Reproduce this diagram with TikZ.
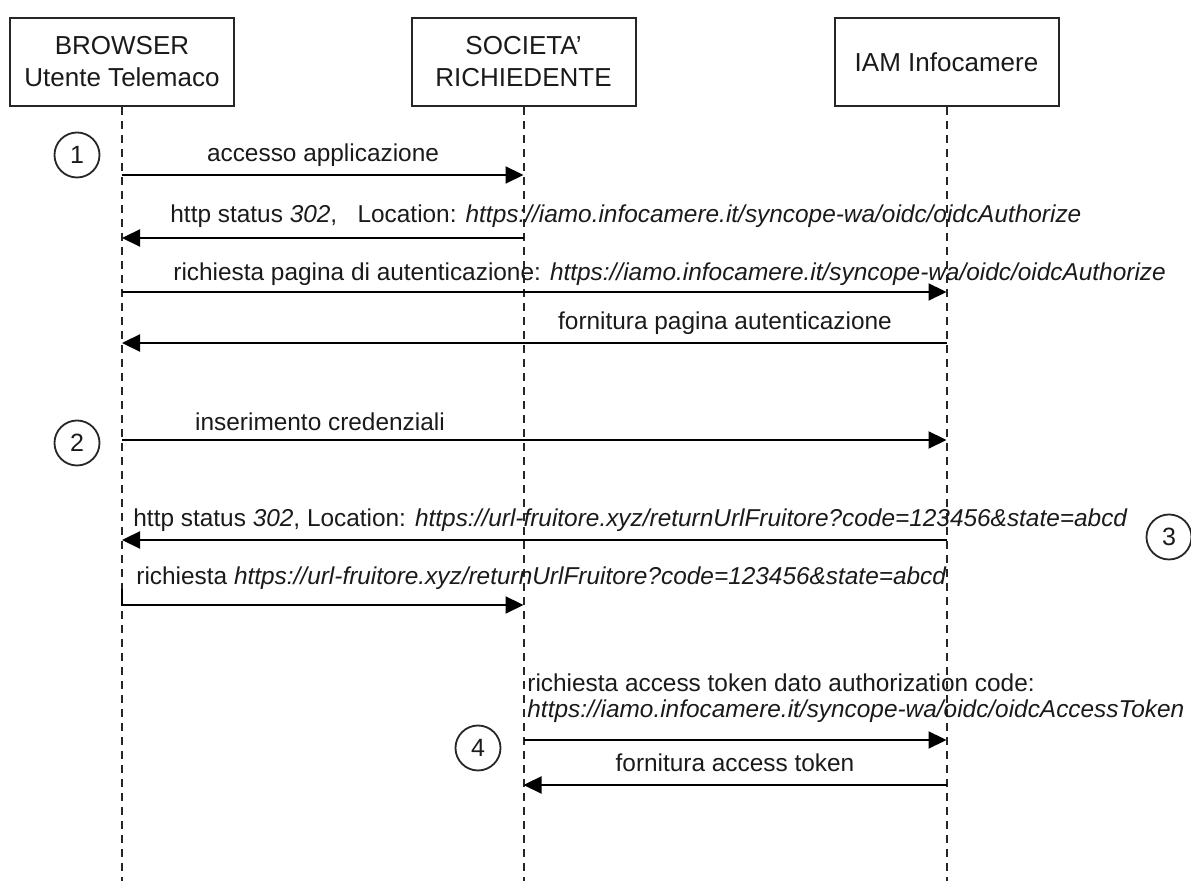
\documentclass[tikz,border=0pt]{standalone}
\usepackage{fontspec}
\setmainfont{Liberation Sans}
\usetikzlibrary{arrows.meta, positioning, calc}
\definecolor{testo}{RGB}{26, 26, 26}
\tikzset{
  scatola/.style={
    draw=black!85, line width=1pt, minimum width=112pt, minimum height=44pt,
    font=\fontsize{13}{16}\selectfont, text=testo, align=center, inner sep=2pt
  },
  linea/.style={dashed, dash pattern=on 4pt off 3pt, line width=1pt, black!85},
  freccia/.style={-{Triangle[length=9pt, width=8.5pt]}, line width=1.1pt, black},
  etichetta/.style={font=\fontsize{12.2}{13}\selectfont, text=testo, inner sep=0pt},
  cerchio/.style={draw=black!85, circle, line width=0.9pt, minimum size=22.5pt,
    inner sep=0pt, font=\fontsize{12.5}{14}\selectfont, text=testo},
}

\begin{document}
\begin{tikzpicture}[x=0.5pt, y=-0.5pt]
        \useasboundingbox (0,0) rectangle (1191,881);
        \coordinate (fondo) at (0,881);

        \node[scatola] (browser) at (122,62)   {BROWSER\\Utente Telemaco};
        \node[scatola] (societa) at (523.5,62) {SOCIETA'\\RICHIEDENTE};
        \node[scatola] (iam)     at (946.5,62) {IAM Infocamere};

        \draw[linea] (browser.south) -- (browser.south |- fondo);
        \draw[linea] (societa.south) -- (societa.south |- fondo);
        \draw[linea] (iam.south)     -- (iam.south |- fondo);

        \node[cerchio] (c1) at (77,155)   {1};
        \node[cerchio] (c2) at (77,443)   {2};
        \node[cerchio] (c3) at (1169,537) {3};
        \node[cerchio] (c4) at (478,748)  {4};

        % quote dei messaggi
        \coordinate (m1) at (0,175);
        \coordinate (m2) at (0,238);
        \coordinate (m3) at (0,292);
        \coordinate (m4) at (0,343);
        \coordinate (m5) at (0,440);
        \coordinate (m6) at (0,540);
        \coordinate (m7a) at (0,589);
        \coordinate (m7) at (0,605);
        \coordinate (m8) at (0,740);
        \coordinate (m9) at (0,785);

        \node[etichetta] (e1) at (323,155) {accesso applicazione};
        \node[etichetta, anchor=west] (e2) at (170,216)
          {http status \textit{302},\ \ \ Location: \textit{https://iamo.infocamere.it/syncope-wa/oidc/oidcAuthorize}};
        \node[etichetta, anchor=west] (e3) at (173,274)
          {richiesta pagina di autenticazione: \textit{https://iamo.infocamere.it/syncope-wa/oidc/oidcAuthorize}};
        \node[etichetta] (e4) at (725,323) {fornitura pagina autenticazione};
        \node[etichetta] (e5) at (320,422) {inserimento credenziali};
        \node[etichetta, anchor=west] (e6) at (133,520)
          {http status \textit{302}, Location: \textit{https://url-fruitore.xyz/returnUrlFruitore?code=123456\&state=abcd}};
        \node[etichetta, anchor=west] (e7) at (136,578)
          {richiesta \textit{https://url-fruitore.xyz/returnUrlFruitore?code=123456\&state=abcd}};
        \node[etichetta, anchor=north west, align=left, font=\fontsize{12.2}{13}\selectfont] (e8) at (527,673)
          {richiesta access token dato authorization code:\\\textit{https://iamo.infocamere.it/syncope-wa/oidc/oidcAccessToken}};
        \node[etichetta] (e9) at (735,763) {fornitura access token};

        \draw[freccia] (browser.south |- m1) -- (societa.south |- m1);
        \draw[freccia] (societa.south |- m2) -- (browser.south |- m2);
        \draw[freccia] (browser.south |- m3) -- (iam.south |- m3);
        \draw[freccia] (iam.south |- m4)     -- (browser.south |- m4);
        \draw[freccia] (browser.south |- m5) -- (iam.south |- m5);
        \draw[freccia] (iam.south |- m6)     -- (browser.south |- m6);
        \draw[freccia] (browser.south |- m7a) |- (societa.south |- m7);
        \draw[freccia] (societa.south |- m8) -- (iam.south |- m8);
        \draw[freccia] (iam.south |- m9)     -- (societa.south |- m9);
      \end{tikzpicture}
\end{document}
